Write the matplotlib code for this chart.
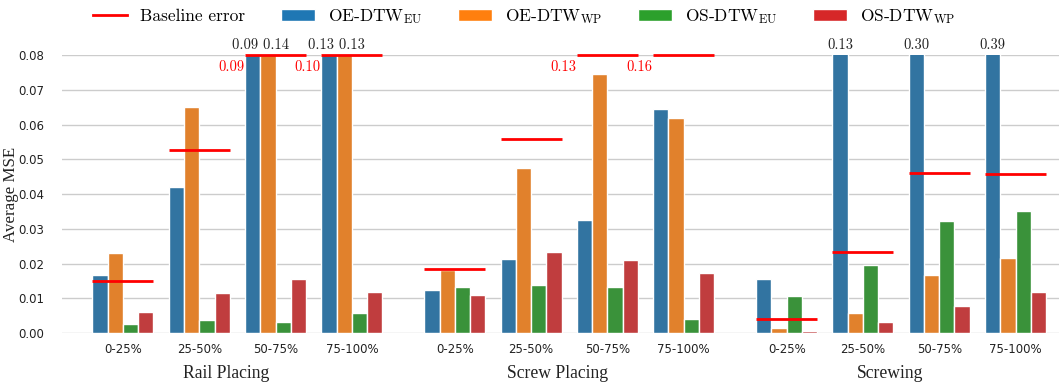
import matplotlib
matplotlib.use("Agg")
import matplotlib.pyplot as plt
from matplotlib.patches import Patch
from matplotlib.lines import Line2D
from matplotlib.font_manager import FontProperties
import numpy as np

plt.rcParams['mathtext.fontset'] = 'cm'

tasks = ["Rail Placing", "Screw Placing", "Screwing"]
phases = ["0-25%", "25-50%", "50-75%", "75-100%"]
methods = [r"OE-DTW$_{\mathrm{EU}}$", r"OE-DTW$_{\mathrm{WP}}$",
           r"OS-DTW$_{\mathrm{EU}}$", r"OS-DTW$_{\mathrm{WP}}$"]

# values per task, per phase (Rail Placing, Screw Placing, Screwing)
oe_dtw_eu = [0.0167, 0.0421, 0.09, 0.13,
             0.0124, 0.0213, 0.0326, 0.0644,
             0.0155, 0.13, 0.30, 0.39]
oe_dtw_wp = [0.0229, 0.0650, 0.14, 0.13,
             0.0182, 0.0474, 0.0746, 0.0619,
             0.0014, 0.0059, 0.0168, 0.0217]
os_dtw_eu = [0.0026, 0.0037, 0.0032, 0.0058,
             0.0133, 0.0139, 0.0133, 0.0040,
             0.0106, 0.0197, 0.0323, 0.0351]
os_dtw_wp = [0.0060, 0.0114, 0.0156, 0.0119,
             0.0110, 0.0233, 0.0211, 0.0173,
             0.0007, 0.0033, 0.0079, 0.0119]
baseline = [0.0151, 0.0528, 0.09, 0.10,
            0.0183, 0.0559, 0.13, 0.16,
            0.0040, 0.0234, 0.0461, 0.0459]

series = [oe_dtw_eu, oe_dtw_wp, os_dtw_eu, os_dtw_wp]
bar_colors = ["#3274a1", "#e1812c", "#3a923a", "#c03d3e"]
legend_colors = ["#1f77b4", "#ff7f0e", "#2ca02c", "#d62728"]
ymax = 0.08

fig = plt.figure(figsize=(10.59, 3.82), dpi=100)
ax = fig.add_axes([0.0585, 0.128, 0.9415, 0.728])

gap = 0.35
n_ph = len(phases)
centers = np.array([t * (n_ph + gap) + p for t in range(len(tasks)) for p in range(n_ph)])
bw = 0.2

cm_prop = FontProperties(family='cmr10', size=10.5)
leg_prop = FontProperties(family='cmr10', size=12.5)

for i, (vals, col) in enumerate(zip(series, bar_colors)):
    xs = centers - 0.4 + bw * (i + 0.5)
    ax.bar(xs, vals, width=bw, color=col, edgecolor='white', linewidth=1, zorder=2)

# overflow labels on bars
for g, c in enumerate(centers):
    over = [(i, s[g]) for i, s in enumerate(series) if s[g] > ymax]
    if not over:
        continue
    idxs = [i for i, _ in over]
    txt = " ".join(f"{v:.2f}" for _, v in over)
    xpos = np.mean([c - 0.4 + bw * (i + 0.5) for i in idxs])
    ax.text(xpos, ymax + 0.0008, txt, ha='center', va='bottom',
            fontproperties=cm_prop, color='#222222', clip_on=False)

# baseline lines
for g, c in enumerate(centers):
    b = baseline[g]
    ax.plot([c - 0.4, c + 0.4], [min(b, ymax)] * 2, color='#ff0000', lw=2,
            zorder=3, clip_on=False, solid_capstyle='butt')
    if b > ymax:
        ax.text(c - 0.41, ymax - 0.0035, f"{b:.2f}", ha='right', va='center',
                fontproperties=cm_prop, color='#ff0000')

ax.set_ylim(0, ymax)
ax.set_xlim(-0.80, 12.27)
ax.set_yticks(np.arange(0, 0.081, 0.01))
ax.set_yticklabels([f"{v:.2f}" for v in np.arange(0, 0.081, 0.01)], fontsize=8.5, color='#222222')
ax.set_xticks(centers)
ax.set_xticklabels(phases * len(tasks), fontsize=8.5, color='#222222')
ax.tick_params(axis='both', length=0)
ax.tick_params(axis='y', pad=13)
ax.tick_params(axis='x', pad=7)
ax.set_axisbelow(True)
ax.grid(axis='y', color='#cccccc', lw=1)
for s in ax.spines.values():
    s.set_visible(False)

ax.set_ylabel("Average MSE", family='Liberation Serif', fontsize=12.2, color='#222222')
ax.yaxis.set_label_coords(-0.043, 0.5)

for t, name in enumerate(tasks):
    tc = centers[t * n_ph:(t + 1) * n_ph].mean() - 0.15
    ax.text(tc, -0.0115, name, ha='center', va='center', transform=ax.transData,
            family='Liberation Serif', fontsize=12.7, color='#222222', clip_on=False)

handles = [Line2D([0], [0], color='#ff0000', lw=2)] + \
          [Patch(facecolor=c, edgecolor='white') for c in legend_colors]
labels = ["Baseline error"] + methods
fig.legend(handles, labels, loc='center', bbox_to_anchor=(0.495, 0.957), ncol=5,
           frameon=False, prop=leg_prop, handlelength=1.95, handletextpad=0.75,
           columnspacing=2.07)

fig.savefig("out.png", dpi=100)
